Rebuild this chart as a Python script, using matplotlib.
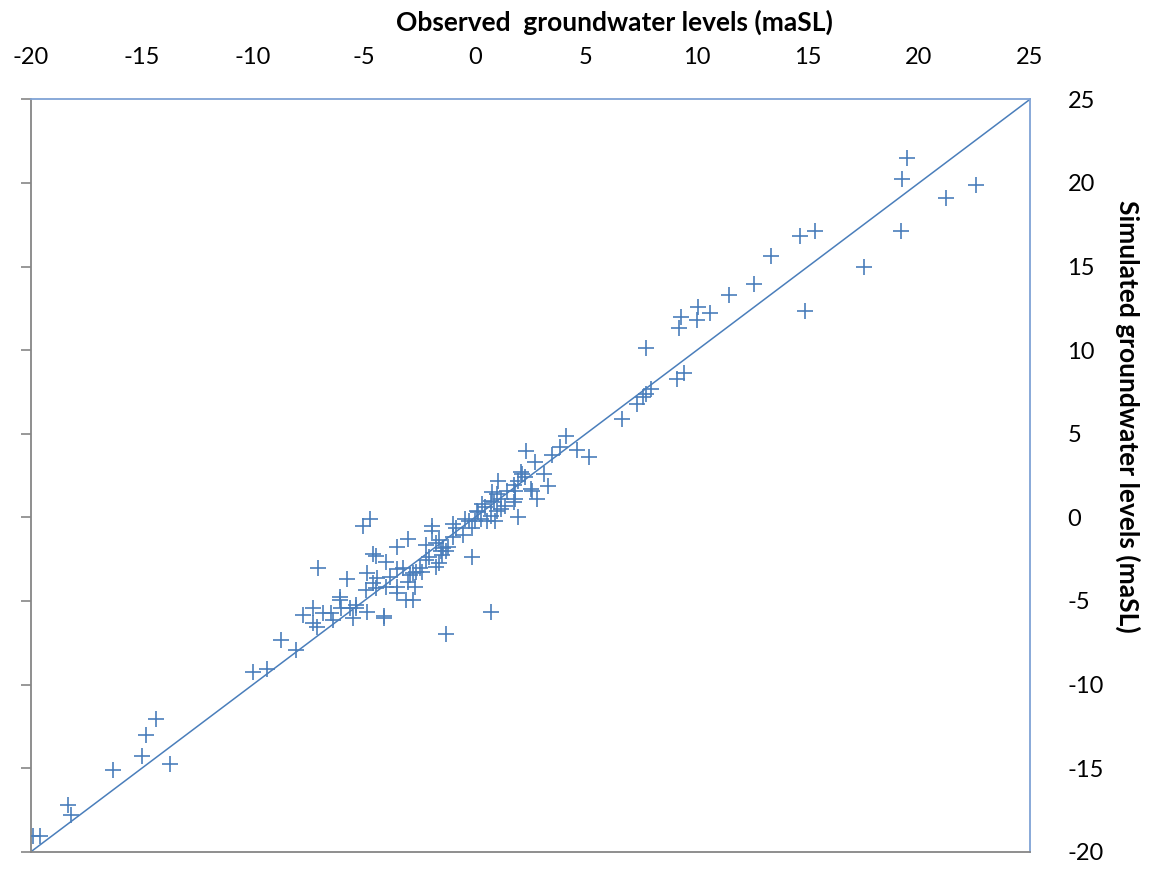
import matplotlib
matplotlib.use("Agg")
import matplotlib.pyplot as plt

plt.rcParams['font.family'] = ['Lato', 'DejaVu Sans']
plt.rcParams['axes.unicode_minus'] = False

# observed vs simulated groundwater levels (maSL)
# lower-left tail
obs_low = [-19.9, -19.6, -18.35, -18.2, -16.3, -15.0, -14.8, -14.35, -13.75,
           -10.0, -9.35, -8.75, -8.05]
sim_low = [-19.05, -19.05, -17.2, -17.8, -15.1, -14.25, -13.0, -12.05, -14.75,
           -9.25, -9.1, -7.35, -7.95]

# cluster around -7 .. -2
obs_mid1 = [-4.75, -5.05, -4.6, -4.45, -3.5, -3.0, -7.05, -4.0, -3.5, -5.75,
            -4.85, -4.4, -3.85, -2.65, -4.6, -4.9, -4.45, -4.0, -3.5, -3.0,
            -2.7, -3.5, -3.1, -2.8, -6.1, -6.1, -5.35, -5.35, -7.3, -7.75,
            -6.85, -6.5, -6.05, -5.65, -4.85, -6.4, -5.5, -7.3, -7.1, -4.1,
            -4.1]
sim_mid1 = [-0.1, -0.5, -2.2, -2.3, -1.8, -1.3, -3.05, -2.7, -3.1, -3.7,
            -3.35, -3.65, -3.55, -3.25, -3.95, -4.35, -4.25, -4.15, -4.15, -3.85,
            -4.15, -4.55, -4.95, -4.95, -4.75, -4.95, -5.25, -5.4, -5.45, -5.85,
            -5.75, -5.75, -5.45, -5.45, -5.65, -6.15, -6.05, -6.35, -6.55, -6.05,
            -5.9]

# cluster around -3 .. 5
obs_mid2 = [2.3, 2.7, 1.05, 2.1, 2.25, 1.75, 1.95, 2.55, 2.8, 0.75,
            1.0, 1.45, 1.15, 0.85, 0.7, 1.8, 1.75, 0.3, 1.15, 1.0,
            0.1, 1.95, 0.7, 0.55, 0.25, 0.0, -0.25, -0.45, -0.15, -1.0,
            -0.85, -1.95, -1.95, -0.55, -1.0, -1.6, -1.75, -1.2, -1.45, -2.2,
            -0.15, -2.05, -2.2, -1.6, -1.75, -2.5, -2.4, -2.8, -2.95, -3.25,
            -1.55, -1.3, -1.5, 1.35, 0.45, 0.15, 0.9, 4.1, 3.85, 4.6,
            5.15, 3.45, 2.05, 3.1, 3.3, 2.5, 1.8, 0.7, -1.3]
sim_mid2 = [3.95, 3.3, 2.2, 2.6, 2.4, 1.95, 2.2, 1.6, 1.1, 1.5,
            1.4, 1.6, 1.1, 0.9, 1.0, 1.1, 0.9, 0.8, 0.5, 0.4,
            0.4, 0.0, 0.1, -0.2, -0.1, -0.2, -0.2, -0.1, -0.65, -0.4,
            -0.65, -0.55, -0.8, -1.05, -1.15, -1.35, -1.55, -1.75, -1.85, -1.65,
            -2.35, -2.35, -2.55, -2.75, -2.95, -3.05, -3.25, -3.35, -3.45, -3.05,
            -2.0, -2.0, -2.25, 0.7, 0.6, 0.3, -0.2, 4.85, 4.2, 4.0,
            3.6, 3.7, 2.7, 2.6, 1.9, 1.7, 1.6, -5.65, -6.95]

# upper-right tail
obs_high = [19.45, 19.25, 22.55, 21.2, 19.2, 15.3, 14.65, 17.5, 13.35, 12.55,
            11.45, 14.85, 10.05, 10.6, 9.3, 10.0, 9.2, 7.7, 9.4, 9.1,
            7.95, 7.7, 7.55, 7.3, 6.6]
sim_high = [21.5, 20.25, 19.9, 19.1, 17.1, 17.15, 16.85, 15.0, 15.65, 13.95,
            13.3, 12.35, 12.6, 12.2, 12.0, 11.8, 11.35, 10.1, 8.65, 8.25,
            7.7, 7.4, 7.2, 6.8, 5.9]

observed = obs_low + obs_mid1 + obs_mid2 + obs_high
simulated = sim_low + sim_mid1 + sim_mid2 + sim_high

lim = [-20, 25]
ticks = list(range(-20, 30, 5))
blue = '#4A7EBB'

fig = plt.figure(figsize=(11.5, 8.69), dpi=100)
ax = fig.add_axes([31 / 1150, 17.3 / 869, 999 / 1150, 752.4 / 869])

ax.plot(lim, lim, color=blue, lw=1.1, zorder=2)
ax.plot(observed, simulated, ls='none', marker='+', ms=11, mew=1.2,
        color=blue, zorder=3)

ax.set_xlim(lim)
ax.set_ylim(lim)
ax.set_xticks(ticks)
ax.set_yticks(ticks)

# x labels on top without tick marks, y labels on the right, tick marks on the left
ax.tick_params(axis='x', bottom=False, top=False, labelbottom=False,
               labeltop=True, labelsize=17, pad=19)
ax.tick_params(axis='y', left=True, right=False, labelleft=False,
               labelright=True, direction='out', length=7, width=1.2,
               color='#868686', labelsize=17, pad=20)

for side in ['left', 'bottom']:
    ax.spines[side].set_color('#868686')
    ax.spines[side].set_linewidth(1.3)
for side in ['top', 'right']:
    ax.spines[side].set_color('#7FA3D6')
    ax.spines[side].set_linewidth(1.3)

fig.text(614 / 1150, 1 - 22 / 869, 'Observed  groundwater levels (maSL)',
         ha='center', va='center', fontsize=19, fontweight='bold')
fig.text(1128 / 1150, 1 - 416 / 869, 'Simulated groundwater levels (maSL)',
         ha='center', va='center', rotation=-90, fontsize=19, fontweight='bold')

fig.savefig('out.png', dpi=100)
